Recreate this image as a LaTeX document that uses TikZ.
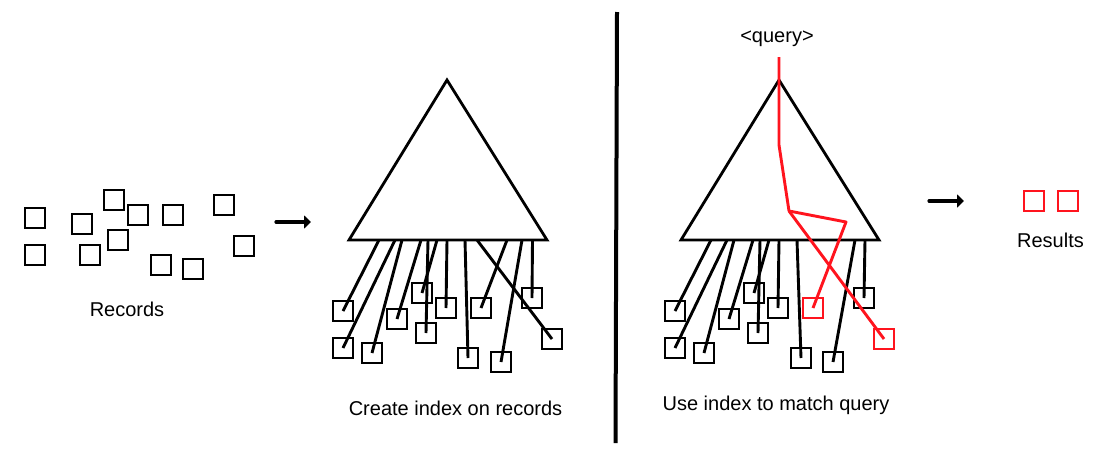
\documentclass[tikz,border=0pt]{standalone}
\usepackage{fontspec}
\setmainfont{Liberation Sans}
\usetikzlibrary{arrows.meta}
\definecolor{qred}{RGB}{255,20,30}
\tikzset{
  rec/.style={draw=black,line width=2.2pt,minimum size=20pt,inner sep=0pt,outer sep=0pt},
  recred/.style={draw=qred,line width=2pt,minimum size=20pt,inner sep=0pt,outer sep=0pt},
  tree/.style={draw=black,line width=2.8pt,line join=miter},
  edge/.style={draw=black,line width=2.9pt},
  qedge/.style={draw=qred,line width=2.9pt,line join=round},
  flow/.style={draw=black,line width=3.2pt,line cap=round,-{Triangle[length=7pt,width=13pt]}},
  lab/.style={font=\fontsize{20}{24}\selectfont,inner sep=0pt,text=black}
}
\begin{document}
\begin{tikzpicture}[x=1pt,y=-1pt]
\useasboundingbox (0,0) rectangle (1100,461);
% Records
\node[rec] (r1) at (35,218) {};
\node[rec] (r2) at (82,224) {};
\node[rec] (r3) at (114,200) {};
\node[rec] (r4) at (138,215) {};
\node[rec] (r5) at (173,215) {};
\node[rec] (r6) at (224,205) {};
\node[rec] (r7) at (35,255) {};
\node[rec] (r8) at (90,255) {};
\node[rec] (r9) at (118,240) {};
\node[rec] (r10) at (161,265) {};
\node[rec] (r11) at (193,269) {};
\node[rec] (r12) at (244,246) {};
\node[lab] (records) at (127,309) {Records};
% arrows
\coordinate (f1s) at (276,222);
\coordinate (f1e) at (311,222);
\draw[flow] (f1s) -- (f1e);
\coordinate (f2s) at (929,201);
\coordinate (f2e) at (964,201);
\draw[flow] (f2s) -- (f2e);
% divider
\coordinate (d1) at (617,12);
\coordinate (d2) at (615.5,443);
\draw[black,line width=4pt] (d1) -- (d2);
% Left tree
\coordinate (lA) at (447,80);
\coordinate (lB) at (349,240);
\coordinate (lC) at (547,240);
\draw[tree] (lA) -- (lB) -- (lC) -- cycle;
\node[rec] (la) at (343,311) {};
\node[rec] (lb) at (343,348) {};
\node[rec] (lc) at (372,353) {};
\node[rec] (ld) at (397,319) {};
\node[rec] (le) at (422,293) {};
\node[rec] (lf) at (426,333) {};
\node[rec] (lg) at (446,308) {};
\node[rec] (lh) at (468,358) {};
\node[rec] (li) at (481,308) {};
\node[rec] (lj) at (501,362) {};
\node[rec] (lk) at (532,298) {};
\node[rec] (ll) at (552,339) {};
\foreach \n/\x in {a/379,b/395,c/402,d/421,f/428,e/437,g/447,h/465,l/477,i/507,j/522,k/532.5}{
  \coordinate (lt\n) at (\x,240);
  \draw[edge] (lt\n) -- (l\n.center);
}
\node[lab] (lcap) at (455.5,408) {Create index on records};
% Right tree
\coordinate (rA) at (779,80);
\coordinate (rB) at (681,240);
\coordinate (rC) at (879,240);
\draw[tree] (rA) -- (rB) -- (rC) -- cycle;
\node[rec] (ra) at (675,311) {};
\node[rec] (rb) at (675,348) {};
\node[rec] (rc) at (704,353) {};
\node[rec] (rd) at (729,319) {};
\node[rec] (re) at (754,293) {};
\node[rec] (rf) at (758,333) {};
\node[rec] (rg) at (778,308) {};
\node[rec] (rh) at (801,358) {};
\node[rec] (rj) at (833,362) {};
\node[rec] (rk) at (864,298) {};
\foreach \n/\x in {a/711,b/727,c/734,d/753,f/760,e/769,g/779,h/797,j/855,k/865}{
  \coordinate (rt\n) at (\x,240);
  \draw[edge] (rt\n) -- (r\n.center);
}
\node[recred] (ri) at (813,308) {};
\node[recred] (rl) at (884,339) {};
\node[lab] (rcap) at (776,405.5) {Use index to match query};
% Query path
\node[lab] (query) at (777,38.5) {<query>};
\coordinate (q0) at (779,57);
\coordinate (q1) at (779,145);
\coordinate (q2) at (789,211);
\coordinate (q3) at (846,222);
\draw[qedge] (q0) -- (q1) -- (q2) -- (q3) -- (ri.center);
\draw[qedge] (q2) -- (rl.center);
% Results
\node[recred] (res1) at (1034,201) {};
\node[recred] (res2) at (1068,201) {};
\node[lab] (results) at (1050.5,240) {Results};
\end{tikzpicture}
\end{document}
